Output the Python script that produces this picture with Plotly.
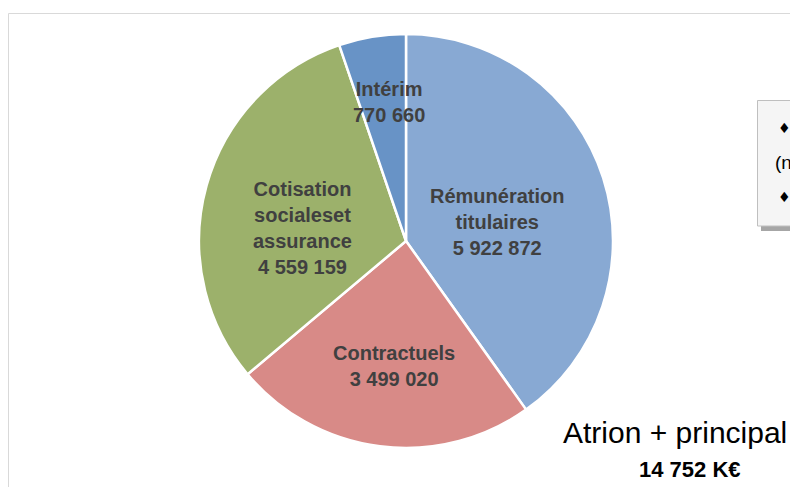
import plotly.graph_objects as go

# ---- data ----
categories = ["Rémunération<br>titulaires", "Contractuels", "Cotisation<br>socialeset<br>assurance", "Intérim"]
values = [5922872, 3499020, 4559159, 770660]
colors = ["#88A9D3", "#D88A87", "#9CB16B", "#6893C6"]
total_label = "14 752 K€"
title_label = "Atrion + principal"

# page has an 8px body margin; coordinates below are window pixels
OFF = 8
W, H = 798, 487

def px(x):
    return (x - OFF) / W

def py(y):
    return 1 - (y - OFF) / H

def fmt(v):
    return f"{v:,}".replace(",", " ")

# pie geometry (window pixels)
cx, cy, r = 406, 241, 207

fig = go.Figure()
fig.add_trace(go.Pie(
    labels=[c.replace("<br>", " ") for c in categories],
    values=values,
    sort=False,
    direction="clockwise",
    rotation=0,
    marker=dict(colors=colors, line=dict(color="white", width=2.5)),
    textinfo="none",
    hoverinfo="label+value",
    showlegend=False,
    domain=dict(x=[px(cx - r), px(cx + r)], y=[py(cy + r), py(cy - r)]),
))

# slice labels
label_pos = [(497, 222), (394, 366), (302, 228), (389, 102)]
for cat, val, (lx, ly) in zip(categories, values, label_pos):
    fig.add_annotation(
        x=px(lx), y=py(ly), xref="paper", yref="paper",
        text=f"<b>{cat}<br>{fmt(val)}</b>",
        showarrow=False, xanchor="center", yanchor="middle",
        font=dict(family="Liberation Sans, Arial", size=20, color="#404040"),
        align="center",
    )

shapes = [
    # outer frame
    dict(type="rect", xref="paper", yref="paper",
         x0=px(8.5), x1=px(830), y0=py(520), y1=py(13.5),
         line=dict(color="#D9D9D9", width=1), fillcolor="rgba(0,0,0,0)", layer="below"),
    # right box shadow
    dict(type="rect", xref="paper", yref="paper",
         x0=px(761), x1=px(830), y0=py(231), y1=py(104),
         line=dict(width=0), fillcolor="#A6A6A6", layer="above"),
    # right box
    dict(type="rect", xref="paper", yref="paper",
         x0=px(757.5), x1=px(830), y0=py(226), y1=py(100.5),
         line=dict(color="#BFBFBF", width=1), fillcolor="#F5F5F5", layer="above"),
]

fig.add_annotation(x=px(784), y=py(128), xref="paper", yref="paper", text="♦",
                   showarrow=False, xanchor="center", yanchor="middle",
                   font=dict(family="DejaVu Sans", size=14, color="#000000"))
fig.add_annotation(x=px(773), y=py(162), xref="paper", yref="paper", text="(n",
                   showarrow=False, xanchor="left", yanchor="middle",
                   font=dict(family="Liberation Sans, Arial", size=19, color="#000000"))
fig.add_annotation(x=px(784), y=py(197), xref="paper", yref="paper", text="♦",
                   showarrow=False, xanchor="center", yanchor="middle",
                   font=dict(family="DejaVu Sans", size=14, color="#000000"))

# bottom-right title
fig.add_annotation(x=px(789), y=py(432), xref="paper", yref="paper", text=title_label,
                   showarrow=False, xanchor="right", yanchor="middle",
                   font=dict(family="Liberation Sans, Arial", size=30, color="#000000"))
fig.add_annotation(x=px(690), y=py(469), xref="paper", yref="paper", text=f"<b>{total_label}</b>",
                   showarrow=False, xanchor="center", yanchor="middle",
                   font=dict(family="Liberation Sans, Arial", size=22, color="#000000"))

fig.update_layout(
    width=W, height=H,
    margin=dict(l=0, r=0, t=0, b=0),
    paper_bgcolor="white", plot_bgcolor="white",
    shapes=shapes,
)

fig.write_html("out.html")
